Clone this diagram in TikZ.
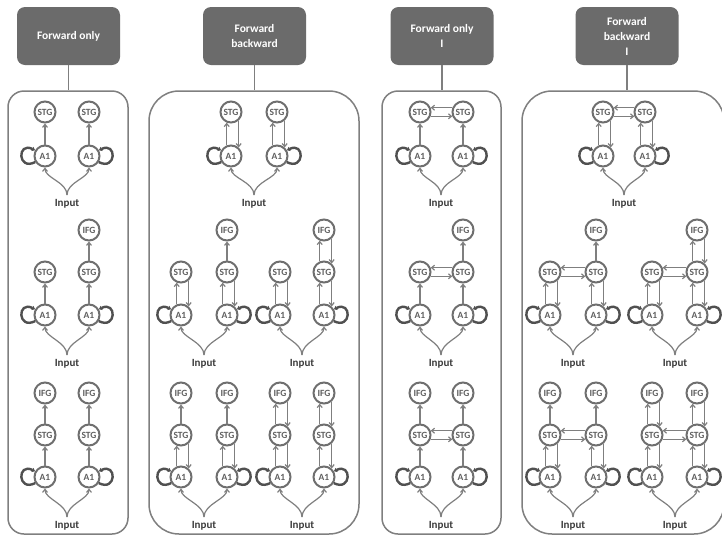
\documentclass[tikz,border=0pt]{standalone}
\usepackage{fontspec}
\setmainfont{Carlito}
\usetikzlibrary{arrows.meta}
\definecolor{hdr}{HTML}{6B6B6B}
\definecolor{edgec}{HTML}{7F7F7F}
\definecolor{nodec}{HTML}{6F6F6F}
\definecolor{ntext}{HTML}{5F5F5F}
\definecolor{itext}{HTML}{3C3C3C}
\definecolor{loopc}{HTML}{505050}
\newcommand\dLpL[1]{\draw[loopst] (#1.212) .. controls +(-18,9) and +(-18,-9) .. (#1.150);}
\newcommand\dLpR[1]{\draw[loopst] (#1.328) .. controls +(18,9) and +(18,-9) .. (#1.30);}
\newcommand\dBase[6]{%
 \node[cnode] (#1aL) at (#2,#5) {A1};
 \node[cnode] (#1aR) at (#3,#5) {A1};
 \node[intext] (#1in) at (#4,#6) {Input};
 \coordinate (#1j) at (#4,#6-9);
 \draw[arr] (#1j) .. controls (#4,#6-22) and (#2,#5+22) .. (#1aL.south);
 \draw[arr] (#1j) .. controls (#4,#6-22) and (#3,#5+22) .. (#1aR.south);
 \dLpL{#1aL}\dLpR{#1aR}}
\newcommand\dStg[4]{\node[cnode] (#1sL) at (#2,#4) {STG}; \node[cnode] (#1sR) at (#3,#4) {STG};}
\newcommand\dIfg[3]{\node[cnode] (#1) at (#2,#3) {IFG};}
\newcommand\dUp[2]{\draw[arr] (#1.north) -- (#2.south);}
\newcommand\dBid[2]{\draw[arr] (#1.112) -- (#2.248); \draw[arr] (#2.312) -- (#1.48);}
\newcommand\dHbid[2]{\draw[arr] (#2.158) -- (#1.22); \draw[arr] (#1.338) -- (#2.202);}
\begin{document}
\begin{tikzpicture}[x=1pt,y=-1pt,
 hdrbox/.style={fill=hdr, rounded corners=8pt, minimum width=103pt, minimum height=58pt, text=white, font=\bfseries\fontsize{11.5}{15}\selectfont, align=center, inner sep=0pt},
 panel/.style={draw=edgec, line width=1.5pt},
 cnode/.style={circle, draw=nodec, line width=2pt, minimum size=21pt, inner sep=0pt, text=ntext, font=\bfseries\fontsize{9.5}{10}\selectfont},
 intext/.style={text=itext, font=\bfseries\fontsize{11}{12}\selectfont, inner sep=0pt},
 arr/.style={draw=edgec, line width=1.2pt, -{Straight Barb[length=3pt,width=5pt]}},
 loopst/.style={draw=loopc, line width=2.4pt, -{Triangle[length=3pt,width=4.5pt]}},
]
\useasboundingbox (0,0) rectangle (722,536);
% headers
\node[hdrbox] (h1) at (68.5,36) {Forward only};
\node[hdrbox] (h2) at (254.5,36) {Forward\\backward};
\node[hdrbox] (h3) at (442,36) {Forward only\\I};
\node[hdrbox] (h4) at (627,36) {Forward\\backward\\I};
% panels
\node[panel, rounded corners=16pt, minimum width=120pt, minimum height=443pt, inner sep=0pt] (p1) at (68,312.5) {};
\node[panel, rounded corners=30pt, minimum width=210pt, minimum height=443pt, inner sep=0pt] (p2) at (254,312.5) {};
\node[panel, rounded corners=16pt, minimum width=119pt, minimum height=443pt, inner sep=0pt] (p3) at (441.5,312.5) {};
\node[panel, rounded corners=30pt, minimum width=202pt, minimum height=443pt, inner sep=0pt] (p4) at (623,312.5) {};
\draw[panel] (h1.south) -- (h1.south |- p1.north);
\draw[panel] (h2.south) -- (h2.south |- p2.north);
\draw[panel] (h3.south) -- (h3.south |- p3.north);
\draw[panel] (h4.south) -- (h4.south |- p4.north);
% ---------- Panel 1: forward only
\dBase{a}{45}{89}{67}{156}{204}
\dStg{a}{45}{89}{112}
\dUp{aaL}{asL}\dUp{aaR}{asR}
\dBase{b}{45}{89}{67}{315}{364}
\dStg{b}{45}{89}{272}
\dIfg{biR}{89}{230}
\dUp{baL}{bsL}\dUp{baR}{bsR}\dUp{bsR}{biR}
\dBase{c}{45}{89}{67}{477}{526}
\dStg{c}{45}{89}{435}
\dIfg{ciL}{45}{393}\dIfg{ciR}{89}{393}
\dUp{caL}{csL}\dUp{caR}{csR}\dUp{csL}{ciL}\dUp{csR}{ciR}
% ---------- Panel 2: forward backward
\dBase{d}{231}{277}{254}{156}{204}
\dStg{d}{231}{277}{112}
\dBid{daL}{dsL}\dBid{daR}{dsR}
\dBase{e}{181}{227}{204}{315}{364}
\dStg{e}{181}{227}{272}
\dIfg{eiR}{227}{230}
\dBid{eaL}{esL}\dBid{eaR}{esR}\dUp{esR}{eiR}
\dBase{f}{280}{324}{302}{315}{364}
\dStg{f}{280}{324}{272}
\dIfg{fiR}{324}{230}
\dBid{faL}{fsL}\dBid{faR}{fsR}\dBid{fsR}{fiR}
\dBase{g}{181}{227}{204}{477}{526}
\dStg{g}{181}{227}{435}
\dIfg{giL}{181}{393}\dIfg{giR}{227}{393}
\dBid{gaL}{gsL}\dBid{gaR}{gsR}\dUp{gsL}{giL}\dUp{gsR}{giR}
\dBase{k}{280}{324}{302}{477}{526}
\dStg{k}{280}{324}{435}
\dIfg{kiL}{280}{393}\dIfg{kiR}{324}{393}
\dBid{kaL}{ksL}\dBid{kaR}{ksR}\dBid{ksL}{kiL}\dBid{ksR}{kiR}
% ---------- Panel 3: forward only I
\dBase{m}{420}{463}{441}{156}{204}
\dStg{m}{420}{463}{112}
\dUp{maL}{msL}\dUp{maR}{msR}\dHbid{msL}{msR}
\dBase{n}{420}{463}{441}{315}{364}
\dStg{n}{420}{463}{272}
\dIfg{niR}{463}{230}
\dUp{naL}{nsL}\dUp{naR}{nsR}\dHbid{nsL}{nsR}\dUp{nsR}{niR}
\dBase{o}{420}{463}{441}{477}{526}
\dStg{o}{420}{463}{435}
\dIfg{oiL}{420}{393}\dIfg{oiR}{463}{393}
\dUp{oaL}{osL}\dUp{oaR}{osR}\dHbid{osL}{osR}\dUp{osL}{oiL}\dUp{osR}{oiR}
% ---------- Panel 4: forward backward I
\dBase{q}{603}{645}{624}{156}{204}
\dStg{q}{603}{645}{112}
\dBid{qaL}{qsL}\dBid{qaR}{qsR}\dHbid{qsL}{qsR}
\dBase{r}{550}{596}{573}{315}{364}
\dStg{r}{550}{596}{272}
\dIfg{riR}{596}{230}
\dBid{raL}{rsL}\dBid{raR}{rsR}\dHbid{rsL}{rsR}\dUp{rsR}{riR}
\dBase{s}{652}{697}{675}{315}{364}
\dStg{s}{652}{697}{272}
\dIfg{siR}{697}{230}
\dBid{saL}{ssL}\dBid{saR}{ssR}\dHbid{ssL}{ssR}\dBid{ssR}{siR}
\dBase{t}{550}{596}{573}{477}{526}
\dStg{t}{550}{596}{435}
\dIfg{tiL}{550}{393}\dIfg{tiR}{596}{393}
\dBid{taL}{tsL}\dBid{taR}{tsR}\dHbid{tsL}{tsR}\dUp{tsL}{tiL}\dUp{tsR}{tiR}
\dBase{u}{652}{697}{675}{477}{526}
\dStg{u}{652}{697}{435}
\dIfg{uiL}{652}{393}\dIfg{uiR}{697}{393}
\dBid{uaL}{usL}\dBid{uaR}{usR}\dHbid{usL}{usR}\dBid{usL}{uiL}\dBid{usR}{uiR}
\end{tikzpicture}
\end{document}
